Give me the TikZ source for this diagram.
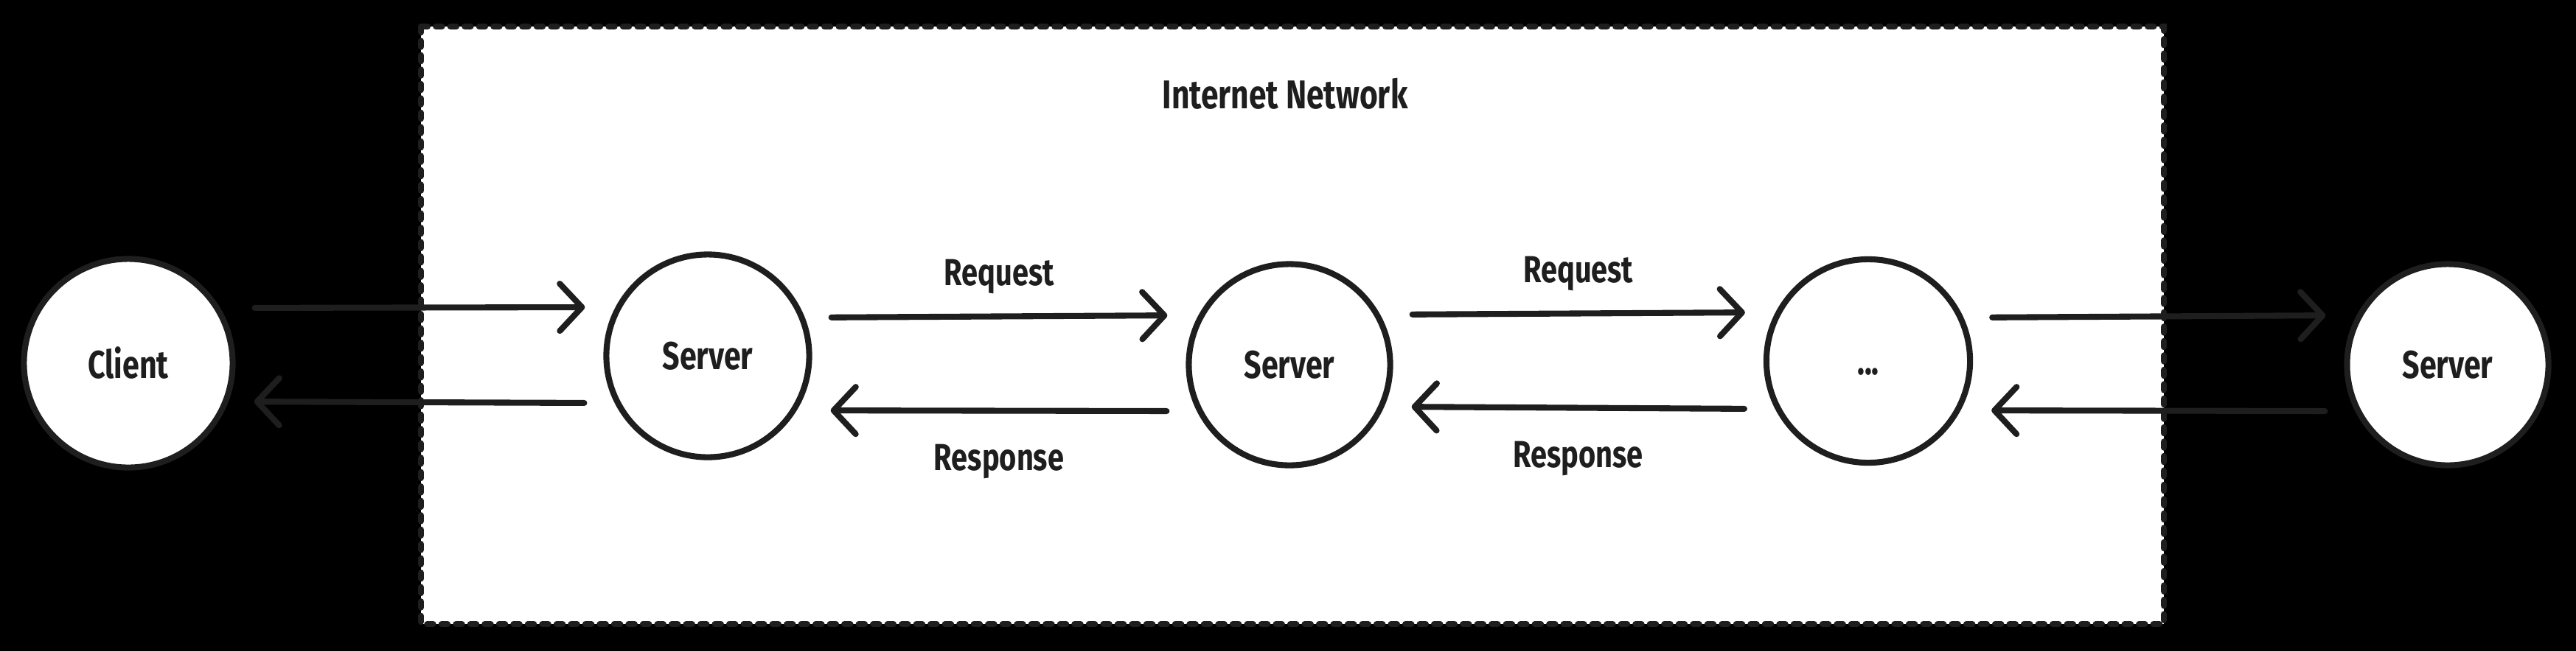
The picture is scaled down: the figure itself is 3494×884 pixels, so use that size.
\documentclass[tikz,border=0pt]{standalone}
\usepackage{fontspec}
\newfontfamily\handfont[FakeStretch=0.78]{Fira Sans}
\usetikzlibrary{arrows.meta}
\definecolor{ink}{HTML}{1E1E1E}
\tikzset{
  host/.style={circle, draw=ink, fill=white, line width=2.3pt, inner sep=0pt,
    text=ink, font=\handfont\bfseries\fontsize{15}{18}\selectfont},
  flow/.style={draw=ink, line width=2.3pt, line cap=round,
    -{Straight Barb[length=3mm,width=6.4mm,round]},
    shorten <=2.6mm, shorten >=2.5mm},
  tag/.style={inner sep=0pt, anchor=base, text=ink,
    font=\handfont\bfseries\fontsize{14.5}{17}\selectfont},
  netbox/.style={draw=ink, fill=white, line width=2.4pt, line cap=round,
    dash pattern=on 0.8mm off 1.15mm}
}
\begin{document}
\begin{tikzpicture}[x=0.01cm, y=-0.01cm]
      \fill[black] (0,0) rectangle (3494,884);
      \draw[netbox] (571,36) rectangle (2935,847);
      \node[tag, font=\handfont\bfseries\fontsize{15.5}{18}\selectfont] (title) at (1743,147) {Internet Network};
      \node[host, minimum size=2.83cm] (client) at (174,493) {Client};
      \node[host, minimum size=2.75cm] (srvA) at (960,483) {Server};
      \node[host, minimum size=2.73cm] (srvB) at (1749,495) {Server};
      \node[host, minimum size=2.76cm] (dots) at (2534,490) {\vphantom{S}...};
      \node[host, minimum size=2.73cm] (srvC) at (3320,495) {Server};
      \begin{scope}
        \draw[flow] ([yshift=7.5mm]client.east) -- ([yshift=6.6mm]srvA.west);
        \draw[flow] ([yshift=-6.4mm]srvA.west) -- ([yshift=-5.2mm]client.east);
        \draw[flow] ([yshift=5.2mm]srvA.east) -- node[tag, yshift=4.2mm] (reqA) {Request} ([yshift=6.7mm]srvB.west);
        \draw[flow] ([yshift=-6.3mm]srvB.west) -- node[tag, yshift=-8.1mm] (resA) {Response} ([yshift=-7.4mm]srvA.east);
        \draw[flow] ([yshift=6.8mm]srvB.east) -- node[tag, yshift=4.2mm] (reqB) {Request} ([yshift=6.6mm]dots.west);
        \draw[flow] ([yshift=-6.5mm]dots.west) -- node[tag, yshift=-8.1mm] (resB) {Response} ([yshift=-5.7mm]srvB.east);
        \draw[flow] ([yshift=5.9mm]dots.east) -- ([yshift=6.7mm]srvC.west);
        \draw[flow] ([yshift=-6.3mm]srvC.west) -- ([yshift=-6.7mm]dots.east);
      \end{scope}
    \end{tikzpicture}
\end{document}
